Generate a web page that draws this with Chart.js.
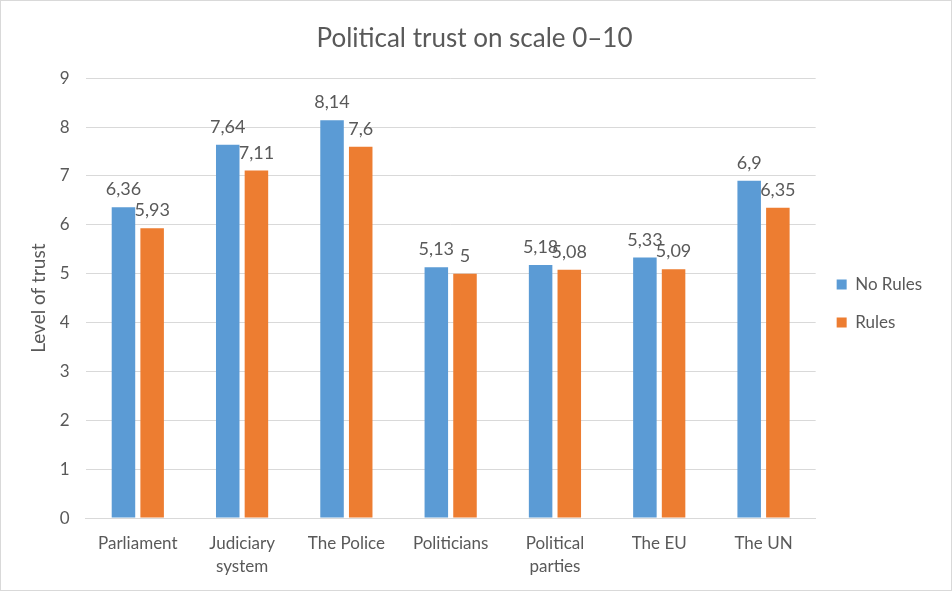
<!DOCTYPE html>
<html>
<head>
<meta charset="utf-8">
<script src="https://cdn.jsdelivr.net/npm/chart.js@4"></script>
<style>
  html, body { margin: 0; padding: 0; background: #fff; }
  #wrap { width: 952px; height: 591px; box-sizing: border-box; border: 1px solid #d9d9d9; background: #fff; }
  canvas { display: block; }
</style>
</head>
<body>
<div id="wrap"><canvas id="c" width="950" height="589"></canvas></div>
<script>
const categories = [["Parliament"], ["Judiciary", "system"], ["The Police"], ["Politicians"], ["Political", "parties"], ["The EU"], ["The UN"]];
const noRules = [6.36, 7.64, 8.14, 5.13, 5.18, 5.33, 6.9];
const rules = [5.93, 7.11, 7.6, 5, 5.08, 5.09, 6.35];
const seriesNames = ["No Rules", "Rules"];
const yTicksMax = 9;

const FONT = "Lato, 'Open Sans', sans-serif";
const TXT = "#595959";

const barLabels = {
  id: 'barLabels',
  afterDatasetsDraw(chart) {
    const ctx = chart.ctx;
    ctx.save();
    ctx.font = "18px " + FONT;
    ctx.fillStyle = TXT;
    ctx.textAlign = 'center';
    ctx.textBaseline = 'alphabetic';
    chart.data.datasets.forEach((ds, i) => {
      const meta = chart.getDatasetMeta(i);
      meta.data.forEach((bar, j) => {
        const txt = String(ds.data[j]).replace('.', ',');
        ctx.fillText(txt, bar.x, bar.y - 12);
      });
    });
    ctx.restore();
  }
};

new Chart(document.getElementById('c'), {
  type: 'bar',
  data: {
    labels: categories,
    datasets: [
      { label: seriesNames[0], data: noRules, backgroundColor: '#5b9bd5', barPercentage: 0.82, categoryPercentage: 0.55 },
      { label: seriesNames[1], data: rules, backgroundColor: '#ed7d31', barPercentage: 0.82, categoryPercentage: 0.55 }
    ]
  },
  options: {
    responsive: false,
    devicePixelRatio: 1,
    animation: false,
    layout: { padding: { left: 16, right: 19, top: 14, bottom: -2 } },
    plugins: {
      title: {
        display: true,
        text: 'Political trust on scale 0–10',
        color: TXT,
        font: { family: FONT, size: 26, weight: 'normal' },
        padding: { top: 8, bottom: 24 }
      },
      legend: {
        position: 'right',
        labels: {
          color: TXT,
          font: { family: FONT, size: 17 },
          boxWidth: 10,
          boxHeight: 10,
          padding: 21
        }
      },
      tooltip: { enabled: false }
    },
    scales: {
      x: {
        grid: { display: false, drawTicks: false },
        border: { color: '#d9d9d9' },
        ticks: { color: TXT, font: { family: FONT, size: 17, lineHeight: 1.35 }, padding: 14, maxRotation: 0 }
      },
      y: {
        min: 0,
        max: yTicksMax,
        grid: { color: '#d9d9d9', drawTicks: false },
        border: { display: false },
        ticks: { stepSize: 1, color: TXT, font: { family: FONT, size: 17 }, padding: 16 },
        title: { display: true, text: 'Level of trust', color: TXT, font: { family: FONT, size: 19 }, padding: { top: 10, bottom: -6 } }
      }
    }
  },
  plugins: [barLabels]
});
</script>
</body>
</html>
